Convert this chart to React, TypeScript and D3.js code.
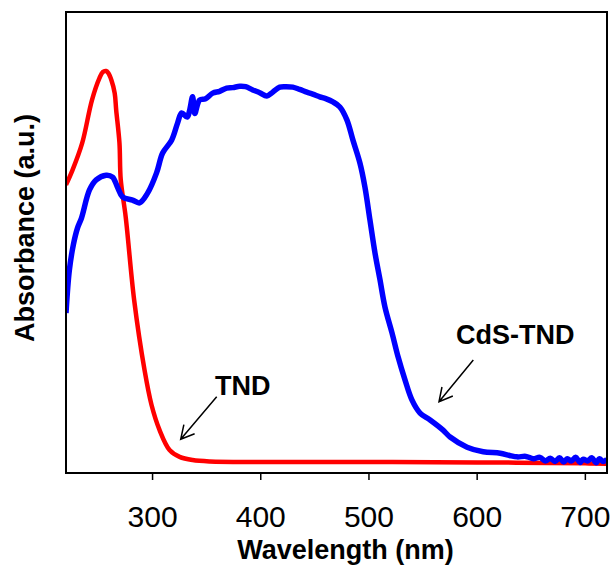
import React from "react";
import * as d3 from "d3";

const xTicks = [300, 400, 500, 600, 700];

const tndWavelength = [220, 226, 235, 244, 251, 254, 257, 259, 262, 265, 266.4, 269.4, 270.6, 275.2, 283, 292.6, 299, 306.5, 315.7, 325, 337, 353, 400, 500, 600, 700, 720];
const tndAbs = [0.625, 0.657, 0.716, 0.809, 0.857, 0.870, 0.872, 0.868, 0.852, 0.824, 0.787, 0.716, 0.636, 0.555, 0.375, 0.223, 0.148, 0.093, 0.050, 0.035, 0.028, 0.025, 0.024, 0.024, 0.023, 0.021, 0.020];

const cdsWavelength = [220, 223.1, 226.8, 230.6, 234.3, 241.7, 247.9, 257.1, 263, 267.6, 272.2, 281.5, 288, 295.4, 303.7, 309.3, 317.6, 323.1, 326.9, 332, 334.3, 337, 339, 343.5, 349, 355.6, 362, 368.5, 374, 380.6, 386, 392.6, 399, 405.6, 411, 417.6, 423, 429.6, 436, 442.6, 448, 454.6, 460, 466.7, 473.1, 479.6, 485.2, 491.7, 496.3, 500.9, 505.6, 510.2, 514.8, 521.3, 526.9, 533.3, 539.8, 547.2, 556.5, 568.5, 575, 590.7, 605.6, 621.3, 630, 637, 645, 651.9, 658, 663, 667.6, 672, 676, 680, 683.3, 687, 691, 695, 698.1, 702, 706, 710, 713, 716.6, 720];
const cdsAbs = [0.347, 0.440, 0.495, 0.531, 0.553, 0.614, 0.636, 0.646, 0.642, 0.620, 0.599, 0.592, 0.586, 0.607, 0.651, 0.694, 0.722, 0.759, 0.781, 0.772, 0.787, 0.816, 0.780, 0.809, 0.812, 0.824, 0.828, 0.835, 0.836, 0.839, 0.838, 0.831, 0.825, 0.818, 0.826, 0.837, 0.838, 0.837, 0.832, 0.826, 0.822, 0.816, 0.812, 0.805, 0.794, 0.766, 0.722, 0.672, 0.620, 0.549, 0.477, 0.419, 0.360, 0.304, 0.252, 0.202, 0.158, 0.130, 0.115, 0.093, 0.078, 0.056, 0.046, 0.043, 0.038, 0.035, 0.036, 0.031, 0.034, 0.026, 0.032, 0.025, 0.033, 0.024, 0.031, 0.026, 0.034, 0.023, 0.030, 0.026, 0.033, 0.022, 0.031, 0.025, 0.030];

const W = 616;
const H = 569;
const plot = { left: 66, top: 12, right: 607, bottom: 473 };

const x = d3.scaleLinear().domain([220, 720]).range([plot.left, plot.right]);
const y = d3.scaleLinear().domain([0, 1]).range([plot.bottom, plot.top]);

const line = d3
  .line<[number, number]>()
  .x((d) => x(d[0]))
  .y((d) => y(d[1]))
  .curve(d3.curveCatmullRom.alpha(0.5));

function arrowPath(x1: number, y1: number, x2: number, y2: number) {
  const ang = Math.atan2(y2 - y1, x2 - x1);
  const len = 15;
  const spread = (28 * Math.PI) / 180;
  const a1 = ang + Math.PI - spread;
  const a2 = ang + Math.PI + spread;
  return `M${x1},${y1}L${x2},${y2}M${x2 + len * Math.cos(a1)},${y2 + len * Math.sin(a1)}L${x2},${y2}L${x2 + len * Math.cos(a2)},${y2 + len * Math.sin(a2)}`;
}

export default function App() {
  const tnd = tndWavelength.map((w, i) => [w, tndAbs[i]] as [number, number]);
  const cds = cdsWavelength.map((w, i) => [w, cdsAbs[i]] as [number, number]);
  const font = "'Liberation Sans', Arial, sans-serif";
  return (
    <svg width={W} height={H} style={{ position: "absolute", left: 0, top: 0, background: "#fff" }}>
      <defs>
        <clipPath id="clip">
          <rect x={plot.left} y={plot.top} width={plot.right - plot.left} height={plot.bottom - plot.top} />
        </clipPath>
      </defs>
      <g clipPath="url(#clip)">
        <path d={line(tnd) || ""} fill="none" stroke="#ff0000" strokeWidth={4.5} strokeLinejoin="round" />
        <path d={line(cds) || ""} fill="none" stroke="#0000ff" strokeWidth={5.5} strokeLinejoin="round" />
      </g>
      <rect
        x={plot.left}
        y={plot.top}
        width={plot.right - plot.left}
        height={plot.bottom - plot.top}
        fill="none"
        stroke="#000"
        strokeWidth={2}
      />
      {xTicks.map((t) => (
        <g key={t}>
          <line x1={x(t)} x2={x(t)} y1={plot.bottom} y2={plot.bottom + 7} stroke="#000" strokeWidth={1.5} />
          <text x={x(t)} y={527} textAnchor="middle" fontFamily={font} fontSize={30} fill="#000">
            {t}
          </text>
        </g>
      ))}
      <text x={(plot.left + plot.right) / 2 + 9} y={559} textAnchor="middle" fontFamily={font} fontSize={27} fontWeight="bold">
        Wavelength (nm)
      </text>
      <text
        transform={`translate(34, 228) rotate(-90)`}
        textAnchor="middle"
        fontFamily={font}
        fontSize={27}
        fontWeight="bold"
      >
        Absorbance (a.u.)
      </text>
      <text x={215} y={395} fontFamily={font} fontSize={27} fontWeight="bold">
        TND
      </text>
      <path d={arrowPath(216.7, 396.7, 180.7, 439.3)} fill="none" stroke="#000" strokeWidth={1.5} />
      <text x={456} y={344} fontFamily={font} fontSize={27} fontWeight="bold">
        CdS-TND
      </text>
      <path d={arrowPath(473.3, 360, 439, 401.7)} fill="none" stroke="#000" strokeWidth={1.5} />
    </svg>
  );
}
